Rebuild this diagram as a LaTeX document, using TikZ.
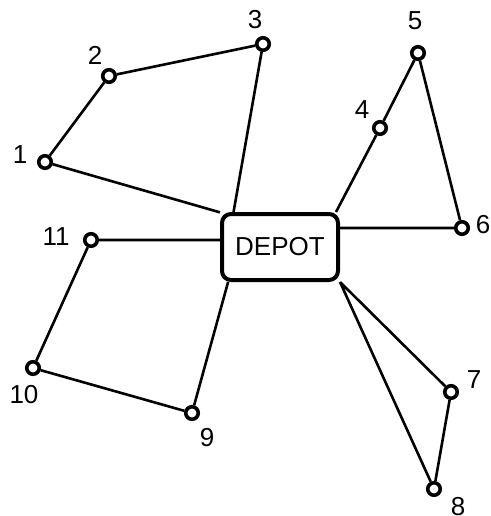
\documentclass[tikz,border=0pt]{standalone}
\usepackage{fontspec}
\setmainfont{Liberation Sans}
\usetikzlibrary{backgrounds}
\tikzset{
  stop/.style={circle,draw,line width=3.6pt,minimum size=12.5pt,inner sep=0pt,fill=white},
  depotbox/.style={draw,line width=4pt,rounded corners=9pt,minimum width=116pt,minimum height=66pt,inner sep=0pt,fill=white},
  route/.style={line width=2.6pt}
}
\begin{document}
\begin{tikzpicture}[x=1pt,y=-1pt,font=\fontsize{26}{31}\selectfont]
\useasboundingbox (0,0) rectangle (490,516);
\node[depotbox] (depot) at (280,247) {DEPOT};
% customers with their numbers
\foreach \n/\x/\y/\lx/\ly in {1/45/162/20/155, 2/109/76/95/55, 3/263/44/255/20,
  4/380/128/362/110, 5/418/53/415/21, 6/462/228/483/225, 7/451/392/474/380,
  8/434/489/458/507, 9/192/413/207/438, 10/33/368/24/395, 11/91/240/56/237}
{
\node[stop] (n\n) at (\x,\y) {};
\node (l\n) at (\lx,\ly) {\n};
}
% routes
\begin{scope}[on background layer]
\draw[route] (depot.150) -- (n1) -- (n2) -- (n3) -- (depot.143);
\draw[route] (depot.32) -- (n4) -- (n5) -- (n6) -- (n6 -| depot.east);
\draw[route] (depot.south east) -- (n7) -- (n8) -- (depot.south east);
\draw[route] (n11 -| depot.west) -- (n11) -- (n10) -- (n9) -- (depot.214);
\end{scope}
\end{tikzpicture}
\end{document}
